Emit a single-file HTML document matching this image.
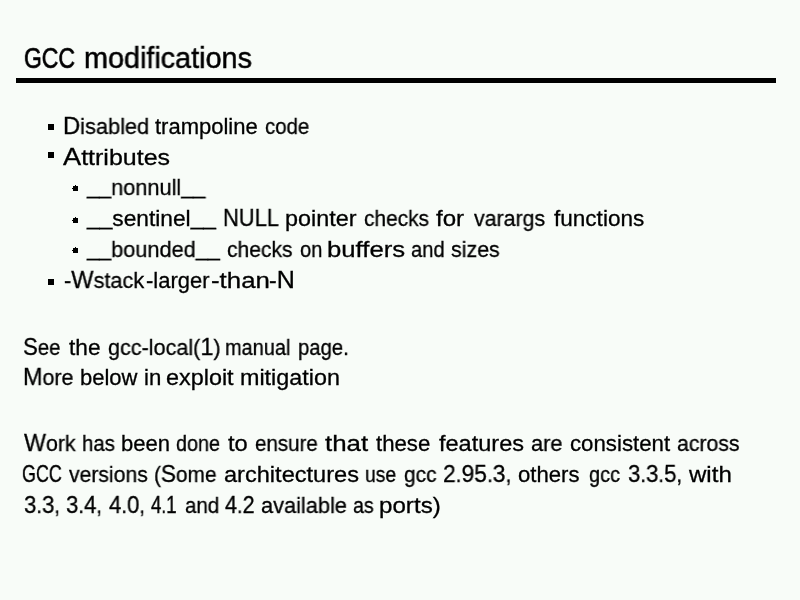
<!DOCTYPE html>
<html><head><meta charset="utf-8"><style>
html,body{margin:0;padding:0;width:800px;height:600px;overflow:hidden;background:#f8fcf8;}
span{position:absolute;white-space:pre;font-family:"Liberation Sans",sans-serif;line-height:normal;color:#000;transform-origin:0 0;will-change:transform;-webkit-text-stroke:0.3px #000;}
b{font-weight:normal;line-height:0;}
i{position:absolute;background:#000;}
em{font-style:normal;position:relative;top:-1.5px;}
.rule{position:absolute;left:16px;top:78px;width:760px;height:5px;background:#000;}
</style></head><body>
<span style="left:24.24px;top:41.75px;font-size:29px;transform:scaleX(0.7646);-webkit-text-stroke:0.65px #000;"><b style="font-size:30px">GCC</b></span>
<span style="left:83.51px;top:41.75px;font-size:29px;transform:scaleX(0.9926);-webkit-text-stroke:0.50px #000;">modifications</span>
<span style="left:62.51px;top:114.09px;font-size:22px;transform:scaleX(0.9904);"><b style="font-size:24px">D</b>isabled</span>
<span style="left:155.00px;top:114.09px;font-size:22px;transform:scaleX(1.0002);">trampoline</span>
<span style="left:265.00px;top:114.09px;font-size:22px;transform:scaleX(0.9269);-webkit-text-stroke:0.32px #000;">code</span>
<span style="left:63.00px;top:144.59px;font-size:22px;transform:scaleX(1.1351);"><b style="font-size:24px">A</b>ttributes</span>
<span style="left:86.99px;top:175.09px;font-size:22px;transform:scaleX(0.9864);"><em>__</em>nonnull<em>__</em></span>
<span style="left:87.28px;top:206.09px;font-size:22px;transform:scaleX(1.0333);"><em>__</em>sentinel<em>__</em></span>
<span style="left:222.84px;top:206.09px;font-size:22px;transform:scaleX(0.9123);-webkit-text-stroke:0.33px #000;"><b style="font-size:24px">NULL</b></span>
<span style="left:285.19px;top:206.09px;font-size:22px;transform:scaleX(1.0615);">pointer</span>
<span style="left:363.75px;top:206.09px;font-size:22px;transform:scaleX(0.9493);-webkit-text-stroke:0.32px #000;">checks</span>
<span style="left:436.25px;top:206.09px;font-size:22px;transform:scaleX(1.0948);">for</span>
<span style="left:473.75px;top:206.09px;font-size:22px;transform:scaleX(0.9713);">varargs</span>
<span style="left:553.75px;top:206.09px;font-size:22px;transform:scaleX(1.0249);">functions</span>
<span style="left:87.24px;top:237.09px;font-size:22px;transform:scaleX(0.9864);"><em>__</em>bounded<em>__</em></span>
<span style="left:227.00px;top:237.09px;font-size:22px;transform:scaleX(0.9566);-webkit-text-stroke:0.31px #000;">checks</span>
<span style="left:300.00px;top:237.09px;font-size:22px;transform:scaleX(0.9146);-webkit-text-stroke:0.33px #000;">on</span>
<span style="left:326.83px;top:237.09px;font-size:22px;transform:scaleX(1.1692);">buffers</span>
<span style="left:411.25px;top:237.09px;font-size:22px;transform:scaleX(0.9162);-webkit-text-stroke:0.33px #000;">and</span>
<span style="left:451.25px;top:237.09px;font-size:22px;transform:scaleX(0.9726);">sizes</span>
<span style="left:63.75px;top:268.09px;font-size:22px;transform:scaleX(0.9869);">-<b style="font-size:24px">W</b>stack</span>
<span style="left:146.25px;top:268.09px;font-size:22px;transform:scaleX(0.9985);">-larger</span>
<span style="left:210.60px;top:268.09px;font-size:22px;transform:scaleX(1.1736);">-than</span>
<span style="left:269.40px;top:268.09px;font-size:22px;transform:scaleX(1.0439);">-<b style="font-size:24px">N</b></span>
<span style="left:22.83px;top:334.59px;font-size:22px;transform:scaleX(0.9237);-webkit-text-stroke:0.32px #000;"><b style="font-size:24px">S</b>ee</span>
<span style="left:68.75px;top:334.59px;font-size:22px;transform:scaleX(1.0297);">the</span>
<span style="left:107.50px;top:334.59px;font-size:22px;transform:scaleX(0.9803);">gcc-local(<b style="font-size:24px">1</b>)</span>
<span style="left:225.34px;top:334.59px;font-size:22px;transform:scaleX(0.9072);-webkit-text-stroke:0.33px #000;">manual</span>
<span style="left:297.83px;top:334.59px;font-size:22px;transform:scaleX(0.9208);-webkit-text-stroke:0.33px #000;">page.</span>
<span style="left:22.78px;top:365.49px;font-size:22px;transform:scaleX(0.9742);"><b style="font-size:24px">M</b>ore</span>
<span style="left:80.26px;top:365.49px;font-size:22px;transform:scaleX(0.9939);">below</span>
<span style="left:143.99px;top:365.49px;font-size:22px;transform:scaleX(1.0075);">in</span>
<span style="left:166.25px;top:365.49px;font-size:22px;transform:scaleX(1.0633);">exploit</span>
<span style="left:240.19px;top:365.49px;font-size:22px;transform:scaleX(1.0607);">mitigation</span>
<span style="left:23.75px;top:431.09px;font-size:22px;transform:scaleX(0.9684);"><b style="font-size:24px">W</b>ork</span>
<span style="left:82.07px;top:431.09px;font-size:22px;transform:scaleX(0.9283);-webkit-text-stroke:0.32px #000;">has</span>
<span style="left:121.00px;top:431.09px;font-size:22px;transform:scaleX(1.0009);">been</span>
<span style="left:176.25px;top:431.09px;font-size:22px;transform:scaleX(0.8982);-webkit-text-stroke:0.33px #000;">done</span>
<span style="left:228.00px;top:431.09px;font-size:22px;transform:scaleX(1.0766);">to</span>
<span style="left:255.00px;top:431.09px;font-size:22px;transform:scaleX(0.9324);-webkit-text-stroke:0.32px #000;">ensure</span>
<span style="left:325.00px;top:431.09px;font-size:22px;transform:scaleX(1.1754);">that</span>
<span style="left:376.00px;top:431.09px;font-size:22px;transform:scaleX(1.0078);">these</span>
<span style="left:438.75px;top:431.09px;font-size:22px;transform:scaleX(1.0693);">features</span>
<span style="left:531.25px;top:431.09px;font-size:22px;transform:scaleX(0.9901);">are</span>
<span style="left:570.00px;top:431.09px;font-size:22px;transform:scaleX(1.0107);">consistent</span>
<span style="left:677.00px;top:431.09px;font-size:22px;transform:scaleX(0.9661);-webkit-text-stroke:0.31px #000;">across</span>
<span style="left:21.75px;top:462.09px;font-size:22px;transform:scaleX(0.7452);-webkit-text-stroke:0.40px #000;"><b style="font-size:24px">GCC</b></span>
<span style="left:68.75px;top:462.09px;font-size:22px;transform:scaleX(0.9613);-webkit-text-stroke:0.31px #000;">versions</span>
<span style="left:154.06px;top:462.09px;font-size:22px;transform:scaleX(0.9438);-webkit-text-stroke:0.32px #000;">(<b style="font-size:24px">S</b>ome</span>
<span style="left:223.75px;top:462.09px;font-size:22px;transform:scaleX(1.0719);">architectures</span>
<span style="left:365.37px;top:462.09px;font-size:22px;transform:scaleX(0.8763);-webkit-text-stroke:0.34px #000;">use</span>
<span style="left:403.75px;top:462.09px;font-size:22px;transform:scaleX(0.9493);-webkit-text-stroke:0.32px #000;">gcc</span>
<span style="left:442.80px;top:462.09px;font-size:22px;transform:scaleX(0.9517);-webkit-text-stroke:0.32px #000;"><b style="font-size:24px">2</b>.<b style="font-size:24px">95</b>.<b style="font-size:24px">3</b>,</span>
<span style="left:517.50px;top:462.09px;font-size:22px;transform:scaleX(1.0058);">others</span>
<span style="left:589.00px;top:462.09px;font-size:22px;transform:scaleX(0.9055);-webkit-text-stroke:0.33px #000;">gcc</span>
<span style="left:628.00px;top:462.09px;font-size:22px;transform:scaleX(0.9255);-webkit-text-stroke:0.32px #000;"><b style="font-size:24px">3</b>.<b style="font-size:24px">3</b>.<b style="font-size:24px">5</b>,</span>
<span style="left:689.09px;top:462.09px;font-size:22px;transform:scaleX(1.0929);">with</span>
<span style="left:23.75px;top:493.09px;font-size:22px;transform:scaleX(0.9257);-webkit-text-stroke:0.32px #000;"><b style="font-size:24px">3</b>.<b style="font-size:24px">3</b>,</span>
<span style="left:66.25px;top:493.09px;font-size:22px;transform:scaleX(0.9257);-webkit-text-stroke:0.32px #000;"><b style="font-size:24px">3</b>.<b style="font-size:24px">4</b>,</span>
<span style="left:108.75px;top:493.09px;font-size:22px;transform:scaleX(0.9257);-webkit-text-stroke:0.32px #000;"><b style="font-size:24px">4</b>.<b style="font-size:24px">0</b>,</span>
<span style="left:151.25px;top:493.09px;font-size:22px;transform:scaleX(0.7779);-webkit-text-stroke:0.39px #000;"><b style="font-size:24px">4</b>.<b style="font-size:24px">1</b></span>
<span style="left:184.50px;top:493.09px;font-size:22px;transform:scaleX(0.9303);-webkit-text-stroke:0.32px #000;">and</span>
<span style="left:224.50px;top:493.09px;font-size:22px;transform:scaleX(0.9011);-webkit-text-stroke:0.33px #000;"><b style="font-size:24px">4</b>.<b style="font-size:24px">2</b></span>
<span style="left:261.25px;top:493.09px;font-size:22px;transform:scaleX(0.9901);">available</span>
<span style="left:353.00px;top:493.09px;font-size:22px;transform:scaleX(0.8909);-webkit-text-stroke:0.34px #000;">as</span>
<span style="left:379.40px;top:493.09px;font-size:22px;transform:scaleX(1.0981);">ports)</span>
<div class="rule"></div>
<i style="left:48px;top:124px;width:6px;height:6px;"></i>
<i style="left:48px;top:152px;width:6px;height:6px;"></i>
<i style="left:48px;top:279px;width:6px;height:6px;"></i>
<i style="left:73px;top:186px;width:5px;height:5px;"></i>
<i style="left:75px;top:185px;width:1px;height:1px;"></i>
<i style="left:72px;top:188px;width:1px;height:1px;"></i>
<i style="left:73px;top:218px;width:5px;height:5px;"></i>
<i style="left:75px;top:217px;width:1px;height:1px;"></i>
<i style="left:72px;top:220px;width:1px;height:1px;"></i>
<i style="left:73px;top:248px;width:5px;height:5px;"></i>
<i style="left:75px;top:247px;width:1px;height:1px;"></i>
<i style="left:72px;top:250px;width:1px;height:1px;"></i>
</body></html>
